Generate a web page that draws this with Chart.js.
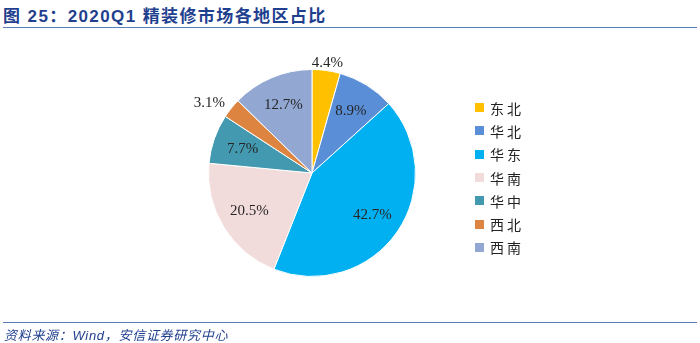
<!DOCTYPE html>
<html>
<head>
<meta charset="utf-8">
<script src="https://cdn.jsdelivr.net/npm/chart.js@4/dist/chart.umd.min.js"></script>
<style>
  body { margin: 0; background: #fff; }
  #wrap { position: relative; width: 700px; height: 343px; overflow: hidden; }
  #title {
    position: absolute; left: 3px; top: 2px;
    font: bold 17px "Liberation Sans", "Noto Sans CJK SC", sans-serif;
    letter-spacing: 1.4px;
    color: #1f3f8f; white-space: nowrap;
  }
  .rule { position: absolute; left: 3px; width: 694px; height: 1px; background: #5b7db8; }
  #source {
    position: absolute; left: 4px; top: 325px;
    font: italic 13px "Liberation Sans", "Noto Sans CJK SC", sans-serif;
    letter-spacing: 0.7px;
    color: #1f3f8f; white-space: nowrap;
  }
  #legend { position: absolute; left: 475px; top: 96px; }
  .item { height: 23.3px; display: flex; align-items: center;
    font: 14px "Noto Sans CJK SC", sans-serif; color: #222; letter-spacing: 3px; }
  .box { width: 9px; height: 9px; margin-right: 6px; }
  canvas { position: absolute; left: 0; top: 0; }
</style>
</head>
<body>
<div id="wrap">
  <div id="title">图 25：2020Q1 精装修市场各地区占比</div>
  <div class="rule" style="top:27px"></div>
  <canvas id="pie" width="700" height="343"></canvas>
  <div id="legend"></div>
  <div class="rule" style="top:322px"></div>
  <div id="source">资料来源：Wind，安信证券研究中心</div>
</div>
<script>
// data
const regions = ["东北", "华北", "华东", "华南", "华中", "西北", "西南"];
const shares = [4.4, 8.9, 42.7, 20.5, 7.7, 3.1, 12.7];
const colors = ["#ffc000", "#5a8fd8", "#00b0f0", "#f2dcdb", "#4299b0", "#dd8540", "#92a8d3"];

// legend on the right
const legendEl = document.querySelector("#legend");
regions.forEach((r, i) => {
  legendEl.insertAdjacentHTML("beforeend",
    `<div class="item"><div class="box" style="background:${colors[i]}"></div>${r}</div>`);
});

// percent labels, small slices go outside
const pieLabels = {
  id: "pieLabels",
  afterDatasetsDraw(chart) {
    const ctx = chart.ctx;
    const meta = chart.getDatasetMeta(0);
    ctx.save();
    ctx.font = "15px 'Liberation Serif', serif";
    ctx.fillStyle = "#262626";
    ctx.textBaseline = "middle";
    meta.data.forEach((arc, i) => {
      const mid = (arc.startAngle + arc.endAngle) / 2;
      const r = arc.outerRadius;
      const text = shares[i].toFixed(1) + "%";
      let d = r * 0.71;
      let align = "center";
      if (shares[i] < 5) {
        d = r + 8;
        const x = Math.cos(mid);
        align = x < -0.3 ? "right" : x > 0.3 ? "left" : "center";
      }
      ctx.textAlign = align;
      ctx.fillText(text, arc.x + Math.cos(mid) * d, arc.y + Math.sin(mid) * d);
    });
    ctx.restore();
  },
};

new Chart("pie", {
  type: "pie",
  data: {
    labels: regions,
    datasets: [
      {
        data: shares,
        backgroundColor: colors,
        borderColor: "#ffffff",
        borderWidth: 1,
      },
    ],
  },
  options: {
    responsive: false,
    animation: false,
    layout: { padding: { left: 208, right: 284, top: 69, bottom: 66 } },
    plugins: {
      legend: { display: false },
      tooltip: { enabled: false },
    },
  },
  plugins: [pieLabels],
});
</script>
</body>
</html>
